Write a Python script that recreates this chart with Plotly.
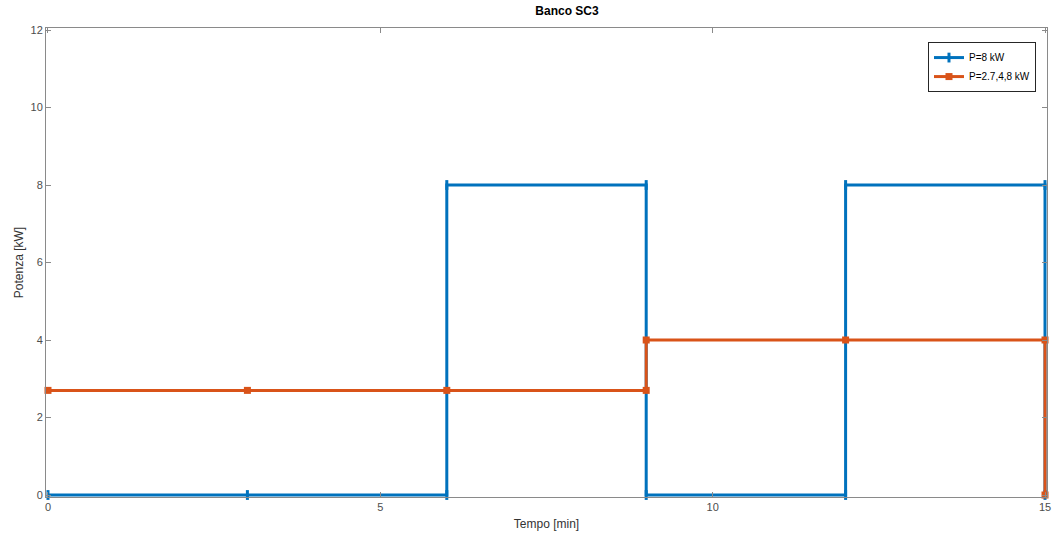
import plotly.graph_objects as go

# Data
blue_t = [0, 3, 6, 6, 9, 9, 12, 12, 15, 15]
blue_p = [0, 0, 0, 8, 8, 0, 0, 8, 8, 0]
orange_t = [0, 3, 6, 9, 9, 12, 15, 15]
orange_p = [2.7, 2.7, 2.7, 2.7, 4, 4, 4, 0]
x_ticks = [0, 5, 10, 15]
y_ticks = [0, 2, 4, 6, 8, 10, 12]

FONT = "Liberation Sans, Arial, sans-serif"

fig = go.Figure()
fig.add_trace(go.Scatter(
    x=blue_t, y=blue_p, mode="lines+markers", name="P=8 kW", cliponaxis=False,
    line=dict(color="#0072BD", width=3),
    marker=dict(symbol="line-ns", size=7, line=dict(color="#0072BD", width=3), color="#0072BD"),
))
fig.add_trace(go.Scatter(
    x=orange_t, y=orange_p, mode="lines+markers", name="P=2.7,4,8 kW", cliponaxis=False,
    line=dict(color="#D95319", width=3),
    marker=dict(symbol="square", size=7, color="#D95319"),
))

axis_common = dict(
    showline=True, linecolor="#8a8a8a", linewidth=1, mirror="ticks",
    ticks="inside", ticklen=5, tickcolor="#8a8a8a", showgrid=False, zeroline=False,
    automargin=False,
    tickfont=dict(size=11, color="#4d4d4d", family=FONT),
)
fig.update_layout(
    template="none",
    width=1053, height=535,
    margin=dict(l=46, r=6, t=28, b=38),
    paper_bgcolor="white", plot_bgcolor="white",
    font=dict(family=FONT, color="#333333"),
    title=dict(text="<b>Banco SC3</b>", x=0.5205, xanchor="center", xref="paper",
               y=1 - 11 / 535, yanchor="middle",
               font=dict(size=12, color="black", family=FONT)),
    xaxis=dict(range=[-0.03, 15.03], tickvals=x_ticks, title=dict(text="Tempo [min]", standoff=7,
               font=dict(size=12, color="#333333", family=FONT)), **axis_common),
    yaxis=dict(range=[-0.0516, 12.0516], tickvals=y_ticks, title=dict(text="Potenza [kW]", standoff=4,
               font=dict(size=12, color="#333333", family=FONT)), **axis_common),
    legend=dict(x=0.989, y=0.97, xanchor="right", yanchor="top", bordercolor="#262626", borderwidth=1,
                bgcolor="white", font=dict(size=10, color="black", family=FONT),
                tracegroupgap=0),
    showlegend=True,
)
fig.write_html("out.html", config={"displayModeBar": False},
               post_script="document.body.style.margin='0';")
